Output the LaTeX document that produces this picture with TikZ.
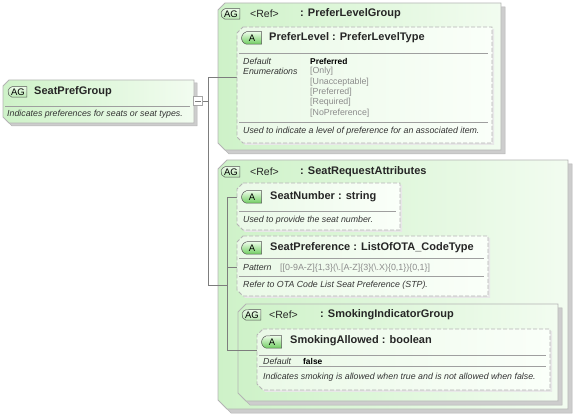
\documentclass[tikz,border=0pt]{standalone}
\usepackage{fontspec}
\setmainfont{Liberation Sans}
\usetikzlibrary{shapes.misc}

\definecolor{grpleft}{RGB}{206,242,200}
\definecolor{grpright}{RGB}{242,252,240}
\definecolor{attleft}{RGB}{234,249,231}
\definecolor{attright}{RGB}{250,255,249}
\definecolor{frame}{RGB}{180,180,180}
\definecolor{shadowgray}{RGB}{205,205,205}
\definecolor{wire}{RGB}{125,125,125}
\definecolor{enumgray}{RGB}{140,140,140}
\definecolor{badgeline}{RGB}{85,85,85}
\definecolor{agtop}{RGB}{235,250,232}
\definecolor{agbottom}{RGB}{185,232,178}
\definecolor{atop}{RGB}{236,252,232}
\definecolor{abottom}{RGB}{110,205,95}

% chamfered outline: x1, y1, x2, y2, cut
\newcommand{\chamferpath}[5]{(#1+#5,#2) -- (#3,#2) -- (#3,#4) -- (#1+#5,#4) -- (#1,#4-#5) -- (#1,#2+#5) -- cycle}

\tikzset{
  grpline/.style={draw=frame, line width=0.8pt, left color=grpleft, right color=grpright},
  grpshadow/.style={fill=shadowgray, draw=frame, line width=0.5pt},
  attline/.style={draw=frame, line width=0.8pt, dash pattern=on 4pt off 2pt, left color=attleft, right color=attright},
  attshadow/.style={fill=gray!18},
  sepline/.style={draw=gray!75, line width=0.5pt},
  wireline/.style={draw=wire, line width=0.5pt},
  agbadge/.style={rounded rectangle, rounded rectangle right arc=none, rounded rectangle arc length=150,
    draw=badgeline, line width=0.5pt, top color=agtop, bottom color=agbottom,
    inner sep=0pt, minimum width=19pt, minimum height=10.5pt, font=\fontsize{9.5}{10}\selectfont},
  abadge/.style={rounded rectangle, rounded rectangle right arc=none, rounded rectangle arc length=150,
    draw=badgeline, line width=0.5pt, top color=atop, bottom color=abottom,
    inner sep=0pt, minimum width=20pt, minimum height=12.5pt, font=\fontsize{9.5}{10}\selectfont},
  minusbox/.style={draw=gray!70, fill=white, line width=0.5pt, minimum size=9pt, inner sep=0pt},
  ttl/.style={anchor=west, inner sep=0pt, font=\fontsize{11}{12}\selectfont\bfseries, text=black!85},
  refl/.style={anchor=west, inner sep=0pt, font=\fontsize{10.5}{12}\selectfont, text=black!85},
  desc/.style={anchor=west, inner sep=0pt, font=\fontsize{8.8}{10}\selectfont\itshape, text=black!80},
  val/.style={anchor=west, inner sep=0pt, font=\fontsize{8.4}{10}\selectfont\bfseries},
  enumv/.style={anchor=west, inner sep=0pt, font=\fontsize{8.8}{10}\selectfont, text=enumgray},
}

\begin{document}
\begin{tikzpicture}[x=1pt, y=-1pt]
    \useasboundingbox (0,0) rectangle (574,417);

    % main group
    \fill[grpshadow, shift={(3,3)}] \chamferpath{3}{80}{194}{123}{6};
    \draw[grpline] \chamferpath{3}{80}{194}{123}{6};
    \node[agbadge] (agMain) at (18,92) {AG};
    \node[ttl] (tMain) at (34,92) {SeatPrefGroup};
    \draw[sepline] (5,106) -- (190,106);
    \node[desc] (dMain) at (7,114) {Indicates preferences for seats or seat types.};

    % group PreferLevelGroup
    \fill[grpshadow, shift={(4,4)}] \chamferpath{218}{3}{501}{150}{7};
    \draw[grpline] \chamferpath{218}{3}{501}{150}{7};
    \node[agbadge] (agPL) at (231,14) {AG};
    \node[refl] (rPL) at (250,14) {<Ref>};
    \node[ttl] (tPL) at (300,14) {: PreferLevelGroup};

    % group SeatRequestAttributes
    \fill[grpshadow, shift={(4,4)}] \chamferpath{218}{160}{568}{409}{9};
    \draw[grpline] \chamferpath{218}{160}{568}{409}{9};
    \node[agbadge] (agSR) at (231,172) {AG};
    \node[refl] (rSR) at (250,172) {<Ref>};
    \node[ttl] (tSR) at (300,172) {: SeatRequestAttributes};

    % group SmokingIndicatorGroup
    \fill[grpshadow, shift={(4,4)}] \chamferpath{238}{304}{558}{401}{8};
    \draw[grpline] \chamferpath{238}{304}{558}{401}{8};
    \node[agbadge] (agSI) at (252,315) {AG};
    \node[refl] (rSI) at (269,315) {<Ref>};
    \node[ttl] (tSI) at (320,315) {: SmokingIndicatorGroup};

    % connectors
    \node[minusbox] (minus) at (198,101) {};
    \draw[wireline] ([xshift=2pt]minus.west) -- ([xshift=-2pt]minus.east);
    \coordinate (jTop) at (208,77);
    \coordinate (jMid) at (208,101);
    \coordinate (jBot) at (208,285);
    \coordinate (inPL) at (237,77);
    \coordinate (inSR) at (227,285);
    \coordinate (kTop) at (227,197);
    \coordinate (kMid) at (227,267);
    \coordinate (kBot) at (227,350);
    \coordinate (inSN) at (237,197);
    \coordinate (inSP) at (237,267);
    \coordinate (inSA) at (257,350);
    \draw[wireline] (minus.east) -- (jMid);
    \draw[wireline] (inPL) -- (jTop) -- (jBot) -- (inSR);
    \draw[wireline] (inSN) -- (kTop) -- (kBot) -- (inSA);
    \draw[wireline] (kMid) -- (inSP);

    % attribute PreferLevel
    \fill[attshadow, shift={(2,2)}] \chamferpath{237}{27}{492}{143}{6};
    \draw[attline] \chamferpath{237}{27}{492}{143}{6};
    \node[abadge] (aPL) at (252,38) {A};
    \node[ttl] (tPLv) at (269,38) {PreferLevel : PreferLevelType};
    \draw[sepline] (239,53) -- (488,53);
    \node[desc] (kDef) at (243,61) {Default};
    \node[desc] (kEnum) at (243,71.5) {Enumerations};
    \node[val] (vDef) at (310,61) {Preferred};
    \node[enumv] (e1) at (310,71.5) {[Only]};
    \node[enumv] (e2) at (310,82) {[Unacceptable]};
    \node[enumv] (e3) at (310,92) {[Preferred]};
    \node[enumv] (e4) at (310,102.5) {[Required]};
    \node[enumv] (e5) at (310,113) {[NoPreference]};
    \draw[sepline] (239,122) -- (488,122);
    \node[desc] (dPL) at (243,131) {Used to indicate a level of preference for an associated item.};

    % attribute SeatNumber
    \fill[attshadow, shift={(2,2)}] \chamferpath{237}{183}{400}{230}{6};
    \draw[attline] \chamferpath{237}{183}{400}{230}{6};
    \node[abadge] (aSN) at (252,197) {A};
    \node[ttl] (tSN) at (270,197) {SeatNumber : string};
    \draw[sepline] (239,211) -- (396,211);
    \node[desc] (dSN) at (243,220) {Used to provide the seat number.};

    % attribute SeatPreference
    \fill[attshadow, shift={(2,2)}] \chamferpath{237}{236}{488}{296}{6};
    \draw[attline] \chamferpath{237}{236}{488}{296}{6};
    \node[abadge] (aSP) at (252,248) {A};
    \node[ttl] (tSP) at (270,248) {SeatPreference : ListOfOTA\_CodeType};
    \draw[sepline] (239,258) -- (484,258);
    \node[desc] (kPat) at (243,268) {Pattern};
    \node[enumv, font=\fontsize{8.9}{10}\selectfont] (vPat) at (280,268) {[[0-9A-Z]\{1,3\}(\textbackslash.[A-Z]\{3\}(\textbackslash.X)\{0,1\})\{0,1\}]};
    \draw[sepline] (239,276) -- (484,276);
    \node[desc] (dSP) at (243,285) {Refer to OTA Code List Seat Preference (STP).};

    % attribute SmokingAllowed
    \fill[attshadow, shift={(2,2)}] \chamferpath{257}{329}{550}{390}{6};
    \draw[attline] \chamferpath{257}{329}{550}{390}{6};
    \node[abadge] (aSA) at (272,342) {A};
    \node[ttl] (tSA) at (290,341) {SmokingAllowed : boolean};
    \draw[sepline] (259,355) -- (546,355);
    \node[desc] (kSA) at (263,361) {Default};
    \node[val] (vSA) at (303,361) {false};
    \draw[sepline] (259,366) -- (546,366);
    \node[desc] (dSA) at (263,377) {Indicates smoking is allowed when true and is not allowed when false.};
\end{tikzpicture}
\end{document}
